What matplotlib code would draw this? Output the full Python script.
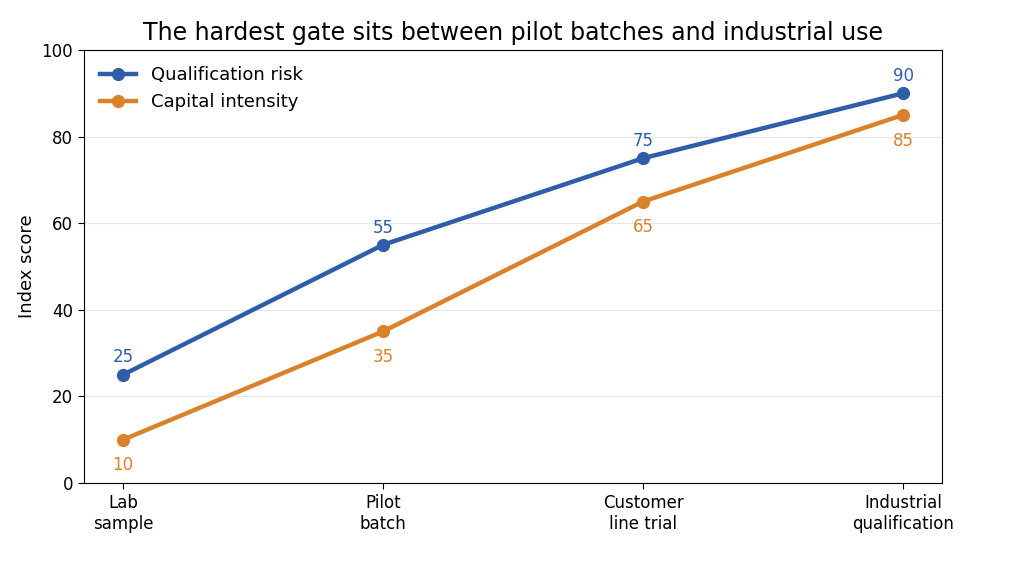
import matplotlib
matplotlib.use("Agg")
import matplotlib.pyplot as plt

stages = ["Lab\nsample", "Pilot\nbatch", "Customer\nline trial", "Industrial\nqualification"]
qual_risk = [25, 55, 75, 90]
capital = [10, 35, 65, 85]

blue = "#2f5ea8"
orange = "#d9822b"

fig = plt.figure(figsize=(10.18, 5.61), dpi=100)
ax = fig.add_axes([84/1018, 1-483/561, (942-84)/1018, (483-50)/561])
x = list(range(len(stages)))
ax.plot(x, qual_risk, color=blue, lw=3.2, marker="o", ms=8.5, label="Qualification risk")
ax.plot(x, capital, color=orange, lw=3.2, marker="o", ms=8.5, label="Capital intensity")
for xi, v in zip(x, qual_risk):
    ax.annotate(str(v), (xi, v), xytext=(0, 6), textcoords="offset points",
                ha="center", va="bottom", color=blue, fontsize=12)
for xi, v in zip(x, capital):
    ax.annotate(str(v), (xi, v), xytext=(0, -12), textcoords="offset points",
                ha="center", va="top", color=orange, fontsize=12)
ax.set_xlim(-0.15, 3.15)
ax.set_ylim(0, 100)
ax.set_xticks(x)
ax.set_xticklabels(stages, fontsize=12)
ax.tick_params(axis="both", labelsize=12, length=4.5)
ax.set_ylabel("Index score", fontsize=13)
ax.set_title("The hardest gate sits between pilot batches and industrial use", fontsize=17, pad=7)
ax.grid(axis="y", color="#e6e6e6", lw=0.8)
ax.set_axisbelow(True)
ax.legend(loc="upper left", frameon=False, fontsize=13)
fig.savefig("out.png", dpi=100)
